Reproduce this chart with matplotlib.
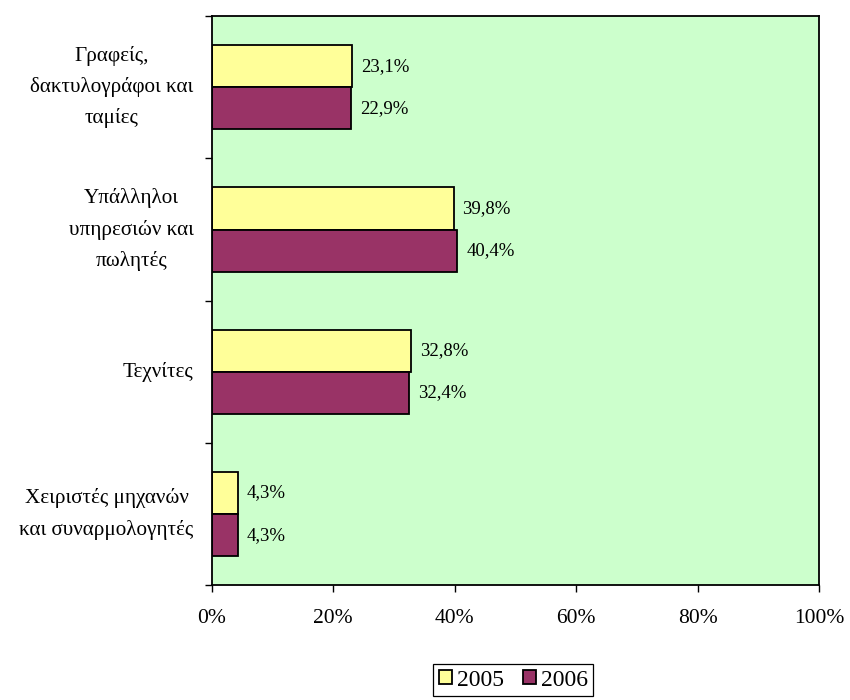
import numpy as np
import matplotlib.pyplot as plt
import matplotlib.ticker as ticker

# ----- Data ----- #
categories = ["Γραφείς,\nδακτυλογράφοι και\nταμίες",
              "Υπάλληλοι\nυπηρεσιών και\nπωλητές",
              "Τεχνίτες",
              "Χειριστές μηχανών\nκαι συναρμολογητές"]
vals_2005 = [23.1, 39.8, 32.8, 4.3]
vals_2006 = [22.9, 40.4, 32.4, 4.3]
years = ["2005", "2006"]

plt.rcParams['font.family'] = ['Liberation Serif', 'DejaVu Serif']

fig = plt.figure(figsize=(8.5, 7.0), dpi=100)
ax = fig.add_axes([0.249, 0.164, 0.715, 0.813])
ax.set_facecolor('#CCFFCC')

pos = np.arange(len(categories))
h = 0.296
b1 = ax.barh(pos - h/2, vals_2005, height=h, color='#FFFF99', edgecolor='k',
             linewidth=1.3, label=years[0])
b2 = ax.barh(pos + h/2, vals_2006, height=h, color='#993366', edgecolor='k',
             linewidth=1.3, label=years[1])

for bars, vals in [(b1, vals_2005), (b2, vals_2006)]:
    for b, v in zip(bars, vals):
        ax.annotate(f"{v:.1f}%".replace('.', ','),
                    (b.get_width(), b.get_y() + b.get_height()/2),
                    xytext=(6.5, 0), textcoords='offset points',
                    ha='left', va='center', fontsize=13.5)

ax.set_xlim(0, 100)
ax.set_ylim(len(categories) - 0.5, -0.5)
ax.set_xticks(np.arange(0, 101, 20))
ax.xaxis.set_major_formatter(ticker.FuncFormatter(lambda x, p: f"{x:.0f}%"))
ax.tick_params(axis='x', labelsize=15.5, length=5, width=1, pad=12)

# boundary ticks (major) + category labels (minor)
ax.set_yticks(np.arange(-0.5, len(categories), 1.0))
ax.set_yticklabels([])
ax.set_yticks(pos, categories, minor=True)
ax.tick_params(axis='y', which='major', length=5, width=1)
ax.tick_params(axis='y', which='minor', length=0, pad=13, labelsize=15.2)
for lab in ax.get_yticklabels(minor=True):
    lab.set_multialignment('center')
    lab.set_linespacing(1.75)
    lab.set_va('center')

for axis in ['top', 'bottom', 'left', 'right']:
    ax.spines[axis].set_linewidth(1.3)

leg = fig.legend(handles=[b1, b2], labels=years, loc='center',
                 bbox_to_anchor=(0.604, 0.0285), ncol=2, fontsize=17,
                 handlelength=0.55, handleheight=0.55, handletextpad=0.2,
                 columnspacing=0.8, borderpad=0.25, fancybox=False,
                 edgecolor='k', framealpha=1)
leg.get_frame().set_linewidth(0.9)

plt.savefig('out.png', dpi=100)
